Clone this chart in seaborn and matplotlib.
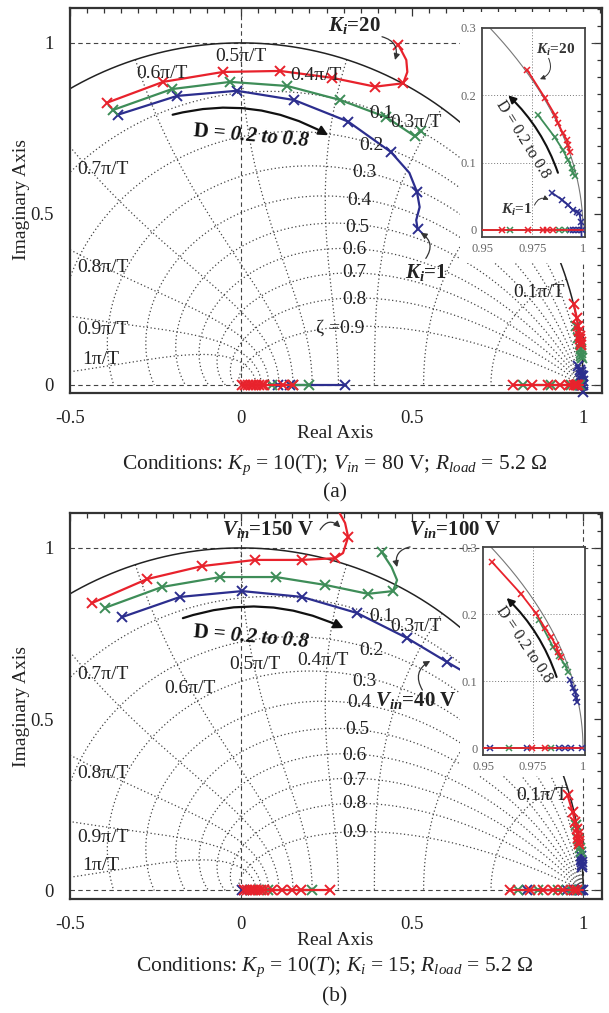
import numpy as np
import matplotlib
matplotlib.use("Agg")
import matplotlib.pyplot as plt
import seaborn as sns
from matplotlib.patches import Rectangle
from matplotlib.ticker import MultipleLocator

# ---------------- panel (a): Kp = 10(T), Vin = 80 V, Ki = 1 / 10 / 20 ----------------
a_red_up_x = [-0.392, -0.228, -0.053, 0.114, 0.266, 0.392, 0.474, 0.486, 0.483, 0.460]
a_red_up_y = [0.825, 0.886, 0.915, 0.918, 0.898, 0.872, 0.882, 0.915, 0.950, 0.994]
a_red_up_mk = [0, 1, 2, 3, 4, 5, 6, 9]
a_grn_up_x = [-0.374, -0.202, -0.032, 0.135, 0.290, 0.424, 0.508, 0.527]
a_grn_up_y = [0.804, 0.865, 0.886, 0.874, 0.833, 0.783, 0.727, 0.742]
a_blu_up_x = [-0.360, -0.187, -0.012, 0.155, 0.313, 0.438, 0.492, 0.514, 0.522, 0.512, 0.516]
a_blu_up_y = [0.790, 0.845, 0.860, 0.833, 0.770, 0.681, 0.620, 0.565, 0.520, 0.482, 0.455]
a_blu_up_mk = [0, 1, 2, 3, 4, 5, 7, 10]

a_red_n1_x = [0.9723, 0.9812, 0.9861, 0.9876, 0.9900, 0.9920, 0.9926, 0.9936]
a_red_n1_y = [0.238, 0.196, 0.171, 0.159, 0.144, 0.134, 0.126, 0.116]
a_grn_n1_x = [0.9777, 0.9860, 0.9900, 0.9926, 0.9945, 0.9950, 0.9960]
a_grn_n1_y = [0.171, 0.138, 0.119, 0.104, 0.092, 0.085, 0.080]
a_blu_n1_x = [0.9847, 0.9896, 0.9926, 0.9950, 0.9970, 0.9982, 0.9990, 0.9995]
a_blu_n1_y = [0.055, 0.045, 0.037, 0.030, 0.027, 0.025, 0.012, -0.022]

a_red_rl = [0.004, 0.012, 0.020, 0.028, 0.036, 0.044, 0.052, 0.060, 0.066, 0.123, 0.152]
a_grn_rl = [0.090, 0.152, 0.199]
a_blu_rl = [0.108, 0.143, 0.304]
a_red_rr = [0.795, 0.850, 0.898, 0.933, 0.960, 0.973, 0.980, 0.982, 0.985, 1.000]
a_grn_rr = [0.825, 0.905, 0.964, 0.988, 0.991]
a_blu_rr = [0.9935, 0.9950, 0.9965, 0.9980, 0.9995]

# ---------------- panel (b): Kp = 10(T), Ki = 15, Vin = 40 / 100 / 150 V ----------------
b_red_up_x = [-0.436, -0.275, -0.114, 0.041, 0.178, 0.275, 0.298, 0.313, 0.304, 0.289, 0.284]
b_red_up_y = [0.839, 0.909, 0.947, 0.965, 0.965, 0.970, 0.985, 1.032, 1.073, 1.100, 1.130]
b_red_up_mk = [0, 1, 2, 3, 4, 5, 7]
b_grn_up_x = [-0.398, -0.231, -0.061, 0.102, 0.246, 0.371, 0.444, 0.456, 0.440, 0.411]
b_grn_up_y = [0.825, 0.886, 0.915, 0.915, 0.892, 0.866, 0.874, 0.906, 0.944, 0.988]
b_grn_up_mk = [0, 1, 2, 3, 4, 5, 6, 9]
b_blu_up_x = [-0.348, -0.178, 0.003, 0.178, 0.339, 0.485, 0.602, 0.700]
b_blu_up_y = [0.798, 0.857, 0.874, 0.857, 0.810, 0.737, 0.667, 0.610]

b_red_n1_x = [0.9544, 0.9690, 0.9765, 0.9810, 0.9840, 0.9863, 0.9877, 0.9892]
b_red_n1_y = [0.278, 0.230, 0.201, 0.179, 0.166, 0.154, 0.143, 0.136]
b_grn_n1_x = [0.9780, 0.9850, 0.9880, 0.9910, 0.9926]
b_grn_n1_y = [0.191, 0.151, 0.137, 0.124, 0.113]
b_blu_n1_x = [0.9936, 0.9950, 0.9960, 0.9966, 0.9970]
b_blu_n1_y = [0.101, 0.090, 0.084, 0.075, 0.068]

b_red_rl = [0.010, 0.018, 0.026, 0.034, 0.042, 0.050, 0.058, 0.066, 0.090, 0.120, 0.150, 0.176, 0.260]
b_grn_rl = [0.030, 0.080, 0.207]
b_blu_rl = [0.003, 0.008]
b_red_rr = [0.787, 0.845, 0.883, 0.912, 0.942, 0.9745, 0.981, 1.000]
b_grn_rr = [0.810, 0.868, 0.927, 0.963, 0.984]
b_blu_rr = [0.836, 0.9534, 0.972, 0.988, 0.991, 0.994, 0.9995]

# zgrid labels (text, x, y)
freq_a = [("0.1π/T", 0.87, 0.27), ("0.3π/T", 0.51, 0.766), ("0.4π/T", 0.22, 0.906),
          ("0.5π/T", 0.0, 0.96), ("0.6π/T", -0.23, 0.91), ("0.7π/T", -0.405, 0.629),
          ("0.8π/T", -0.405, 0.342), ("0.9π/T", -0.405, 0.161), ("1π/T", -0.41, 0.073)]
freq_b = [("0.1π/T", 0.88, 0.278), ("0.3π/T", 0.51, 0.77), ("0.4π/T", 0.24, 0.67),
          ("0.5π/T", 0.04, 0.66), ("0.6π/T", -0.15, 0.59), ("0.7π/T", -0.405, 0.63),
          ("0.8π/T", -0.405, 0.342), ("0.9π/T", -0.405, 0.155), ("1π/T", -0.41, 0.073)]
damp_a = [("0.1", 0.41, 0.795), ("0.2", 0.38, 0.70), ("0.3", 0.36, 0.62), ("0.4", 0.345, 0.54),
          ("0.5", 0.34, 0.46), ("0.6", 0.33, 0.395), ("0.7", 0.33, 0.33), ("0.8", 0.33, 0.25),
          ("ζ =0.9", 0.29, 0.167)]
damp_b = [("0.1", 0.41, 0.80), ("0.2", 0.38, 0.70), ("0.3", 0.36, 0.61), ("0.4", 0.345, 0.55),
          ("0.5", 0.34, 0.47), ("0.6", 0.33, 0.395), ("0.7", 0.33, 0.32), ("0.8", 0.33, 0.254),
          ("0.9", 0.33, 0.17)]

sns.set_theme(style="white")
plt.rcParams["font.family"] = ["Liberation Serif", "DejaVu Serif"]
plt.rcParams.update({
    "mathtext.fontset": "custom",
    "mathtext.rm": "Liberation Serif",
    "mathtext.it": "Liberation Serif:italic",
    "mathtext.bf": "Liberation Serif:bold",
    "mathtext.bfit": "Liberation Serif:italic:bold",
})

RED, GRN, BLU = "#e8222c", "#3e8d58", "#2c2e8e"
DOT = (0, (1, 2))
DASH = (0, (4, 3))
W, H = 609, 1013


def rect(x0, y0, x1, y1):
    # pixel box (origin top-left) -> figure fraction
    return [x0 / W, 1 - y1 / H, (x1 - x0) / W, (y1 - y0) / H]


def branch(ax, xs, ys, color, mk=None, ms=6.5, mew=1.4, lw=1.6, clip=True):
    sns.lineplot(x=xs, y=ys, ax=ax, sort=False, estimator=None, color=color,
                 lw=lw, marker="x", ms=ms, mew=mew, mec=color, markevery=mk,
                 clip_on=clip, zorder=3, legend=False)


def zgrid(ax):
    th = np.linspace(0, np.pi, 400)
    for z in np.arange(1, 10) / 10:
        r = np.exp(-th * z / np.sqrt(1 - z * z))
        ax.plot(r * np.cos(th), r * np.sin(th), ls=DOT, lw=0.9, color="#444", zorder=1)
    zeta = np.linspace(0, 1, 300)
    for k in range(1, 11):
        wn = k * np.pi / 10
        r = np.exp(-wn * zeta)
        ang = wn * np.sqrt(1 - zeta ** 2)
        ax.plot(r * np.cos(ang), r * np.sin(ang), ls=DOT, lw=0.9, color="#444", zorder=1)
    ax.plot(np.cos(th), np.sin(th), color="#222", lw=1.1, zorder=2)
    for v in (0, 1):
        ax.axhline(v, ls=DASH, lw=0.8, color="#444", zorder=1)
        ax.axvline(v, ls=DASH, lw=0.8, color="#444", zorder=1)


def setup_main(ax):
    ax.set_xlim(-0.5, 1.055)
    ax.set_ylim(-0.025, 1.102)
    ax.set_xticks([-0.5, 0, 0.5, 1])
    ax.set_xticklabels(["-0.5", "0", "0.5", "1"])
    ax.set_yticks([0, 0.5, 1])
    ax.set_yticklabels(["0", "0.5", "1"])
    ax.xaxis.set_minor_locator(MultipleLocator(0.05))
    ax.yaxis.set_minor_locator(MultipleLocator(0.05))
    ax.tick_params(which="both", direction="in", top=True, right=True, color="#333", width=0.9)
    ax.tick_params(which="major", length=6, labelsize=13.5, labelcolor="#222")
    ax.tick_params(which="minor", length=3.5)
    ax.tick_params(axis="x", pad=12)
    ax.tick_params(axis="y", pad=12)
    for s in ax.spines.values():
        s.set_color("#333")
        s.set_linewidth(1.6)


def setup_inset(ax):
    ax.set_facecolor("white")
    ax.set_zorder(3)
    ax.set_xlim(0.95, 1.001)
    ax.set_ylim(-0.0104, 0.3)
    ax.set_xticks([0.95, 0.975, 1])
    ax.set_xticklabels(["0.95", "0.975", "1"])
    ax.set_yticks([0, 0.1, 0.2, 0.3])
    ax.set_yticklabels(["0", "0.1", "0.2", "0.3"])
    ax.tick_params(length=0, labelsize=9, labelcolor="#666", pad=4)
    for s in ax.spines.values():
        s.set_color("#444")
        s.set_linewidth(1.3)
    ax.axvline(0.975, ls=DOT, lw=0.7, color="#777", zorder=1)
    for v in (0.1, 0.2):
        ax.axhline(v, ls=DOT, lw=0.7, color="#777", zorder=1)
    th = np.linspace(0, 0.35, 200)
    ax.plot(np.cos(th), np.sin(th), color="#777", lw=0.8, zorder=2)


def labels(ax, freq, damp):
    for t, x, y in freq + damp:
        ax.text(x, y, t, fontsize=14, color="#222", ha="center", va="center", zorder=4)


def arrow(ax, tip, tail, rad, lw=0.9, ms=9, color="#333"):
    ax.annotate("", xy=tip, xytext=tail, zorder=5,
                arrowprops=dict(arrowstyle="-|>", connectionstyle=f"arc3,rad={rad}",
                                color=color, lw=lw, mutation_scale=ms, shrinkA=0, shrinkB=0))


def plot_set(ax, up, n1, rl, rr, ms, mew, lw, clip_n1=True):
    cols = (BLU, GRN, RED)
    for (xs, ys, mk), c in zip(up, cols):
        branch(ax, xs, ys, c, mk, ms, mew, lw)
    for (xs, ys), c in zip(n1, cols):
        branch(ax, xs, ys, c, None, ms, mew, lw, clip=clip_n1 if c == BLU else True)
    for xs, c in zip(rl, cols):
        branch(ax, xs, [0] * len(xs), c, None, ms, mew, lw)
    for xs, c in zip(rr, cols):
        mk = list(range(len(xs) - 1)) if c == RED else None
        branch(ax, xs, [0] * len(xs), c, mk, ms, mew, lw)


fig = plt.figure(figsize=(6.09, 10.13), dpi=100)

# ---------------- (a) ----------------
up_a = [(a_blu_up_x, a_blu_up_y, a_blu_up_mk), (a_grn_up_x, a_grn_up_y, None),
        (a_red_up_x, a_red_up_y, a_red_up_mk)]
n1_a = [(a_blu_n1_x, a_blu_n1_y), (a_grn_n1_x, a_grn_n1_y), (a_red_n1_x, a_red_n1_y)]
rl_a = [a_blu_rl, a_grn_rl, a_red_rl]
rr_a = [a_blu_rr, a_grn_rr, a_red_rr]

ax = fig.add_axes(rect(70, 8, 602, 393.5))
zgrid(ax)
plot_set(ax, up_a, n1_a, rl_a, rr_a, 6.5, 1.4, 1.6, clip_n1=False)
setup_main(ax)
labels(ax, freq_a, damp_a)
arrow(ax, (0.255, 0.73), (-0.2, 0.79), -0.2, lw=1.6, ms=14, color="#111")
ax.text(0.03, 0.727, r"D = $\mathbfit{0.2\ to\ 0.8}$", fontsize=15, fontweight="bold",
        rotation=-5, ha="center", va="center", color="#111", zorder=5)
ax.text(0.33, 1.05, r"$\mathbfit{K_i}$=20", fontsize=15, fontweight="bold",
        ha="center", va="center", color="#222", zorder=5)
arrow(ax, (0.45, 0.95), (0.412, 1.018), -0.5)
ax.text(0.54, 0.33, r"$\mathbfit{K_i}$=1", fontsize=15, fontweight="bold",
        ha="center", va="center", color="#222", zorder=5)
arrow(ax, (0.525, 0.445), (0.54, 0.37), 0.5)

fig.add_artist(Rectangle((460 / W, 1 - 263 / H), 130 / W, 251 / H, transform=fig.transFigure,
                         facecolor="white", edgecolor="none", zorder=2))
ins = fig.add_axes(rect(482, 28, 585, 237))
setup_inset(ins)
plot_set(ins, up_a, n1_a, rl_a, rr_a, 5, 1.1, 1.3)
ins.text(0.9866, 0.267, r"$\mathbfit{K_i}$=20", fontsize=11, fontweight="bold",
         ha="center", va="center", color="#333", zorder=5)
arrow(ins, (0.9787, 0.224), (0.983, 0.255), -0.5, lw=0.7, ms=7)
ins.text(0.970, 0.134, "D = 0.2 to 0.8", fontsize=11.5, rotation=-58,
         ha="center", va="center", color="#222", zorder=5)
arrow(ins, (0.963, 0.2), (0.9876, 0.085), 0.12, lw=1.5, ms=11, color="#111")
ins.text(0.967, 0.03, r"$\mathbfit{K_i}$=1", fontsize=11, fontweight="bold",
         ha="center", va="center", color="#333", zorder=5)
arrow(ins, (0.983, 0.045), (0.976, 0.037), -0.5, lw=0.7, ms=7)

fig.text(335 / W, 1 - 433 / H, "Real Axis", fontsize=14, ha="center", va="center", color="#222")
fig.text(22 / W, 1 - 200 / H, "Imaginary Axis", fontsize=14, rotation=90,
         ha="center", va="center", color="#222")
fig.text(335 / W, 1 - 465 / H, r"Conditions: $K_p$ = 10(T); $V_{in}$ = 80 V; $R_{load}$ = 5.2 Ω",
         fontsize=15.5, ha="center", va="center", color="#222")
fig.text(335 / W, 1 - 493 / H, "(a)", fontsize=15.5, ha="center", va="center", color="#222")

# ---------------- (b) ----------------
up_b = [(b_blu_up_x, b_blu_up_y, None), (b_grn_up_x, b_grn_up_y, b_grn_up_mk),
        (b_red_up_x, b_red_up_y, b_red_up_mk)]
n1_b = [(b_blu_n1_x, b_blu_n1_y), (b_grn_n1_x, b_grn_n1_y), (b_red_n1_x, b_red_n1_y)]
rl_b = [b_blu_rl, b_grn_rl, b_red_rl]
rr_b = [b_blu_rr, b_grn_rr, b_red_rr]

ax = fig.add_axes(rect(70, 513, 602, 899))
zgrid(ax)
plot_set(ax, up_b, n1_b, rl_b, rr_b, 6.5, 1.4, 1.6)
setup_main(ax)
labels(ax, freq_b, damp_b)
arrow(ax, (0.3, 0.766), (-0.17, 0.795), -0.2, lw=1.6, ms=14, color="#111")
ax.text(0.03, 0.74, r"D = $\mathbfit{0.2\ to\ 0.8}$", fontsize=15, fontweight="bold",
        rotation=-5, ha="center", va="center", color="#111", zorder=5)
ax.text(0.08, 1.053, r"$\mathbfit{V_{in}}$=150 V", fontsize=15, fontweight="bold",
        ha="center", va="center", color="#222", zorder=5)
arrow(ax, (0.29, 1.06), (0.231, 1.053), -0.6)
ax.text(0.625, 1.053, r"$\mathbfit{V_{in}}$=100 V", fontsize=15, fontweight="bold",
        ha="center", va="center", color="#222", zorder=5)
arrow(ax, (0.456, 0.944), (0.494, 1.003), 0.5)
ax.text(0.51, 0.555, r"$\mathbfit{V_{in}}$=40 V", fontsize=15, fontweight="bold",
        ha="center", va="center", color="#222", zorder=5)
arrow(ax, (0.553, 0.67), (0.53, 0.585), -0.5)

fig.add_artist(Rectangle((460 / W, 1 - 776 / H), 130 / W, 224 / H, transform=fig.transFigure,
                         facecolor="white", edgecolor="none", zorder=2))
ins = fig.add_axes(rect(483, 547, 585, 755))
setup_inset(ins)
plot_set(ins, up_b, n1_b, rl_b, rr_b, 5, 1.1, 1.3)
ins.text(0.9706, 0.154, "D = 0.2 to 0.8", fontsize=11.5, rotation=-56,
         ha="center", va="center", color="#222", zorder=5)
arrow(ins, (0.9618, 0.224), (0.9868, 0.106), 0.12, lw=1.5, ms=11, color="#111")

fig.text(335 / W, 1 - 940 / H, "Real Axis", fontsize=14, ha="center", va="center", color="#222")
fig.text(22 / W, 1 - 706 / H, "Imaginary Axis", fontsize=14, rotation=90,
         ha="center", va="center", color="#222")
fig.text(335 / W, 1 - 967 / H, r"Conditions: $K_p$ = 10($T$); $K_i$ = 15; $R_{load}$ = 5.2 Ω",
         fontsize=15.5, ha="center", va="center", color="#222")
fig.text(335 / W, 1 - 997 / H, "(b)", fontsize=15.5, ha="center", va="center", color="#222")

fig.savefig("out.png", dpi=100)
